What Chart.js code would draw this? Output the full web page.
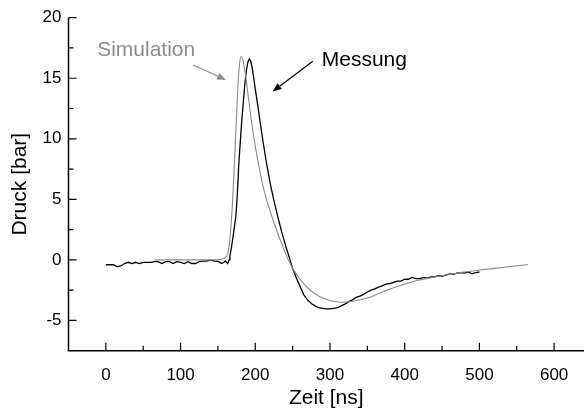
<!DOCTYPE html>
<html>
<head>
<meta charset="utf-8">
<script src="https://cdn.jsdelivr.net/npm/chart.js@4/dist/chart.umd.min.js"></script>
<style>
  html, body { margin: 0; padding: 0; background: #fff; }
  #wrap { width: 584px; height: 409px; }
</style>
</head>
<body>
<div id="wrap"><canvas id="c" width="584" height="409"></canvas></div>
<script>
// Messung: gemessener Druckverlauf
const messTime = [0,5,10,15,20,25,30,35,40,45,50,55,60,65,70,75,80,85,90,95,100,105,110,115,120,125,130,135,140,145,150,155,160,163,
  165,166,168,170,172,174,176,178,180,182,184,186,188,190,192,194,196,198,200,203,206,210,215,220,225,230,235,240,245,250,255,260,265,270,275,280,285,290,295,300,305,310,315,320,325,330,335,340,345,350,355,360,365,370,375,380,385,390,395,400,405,410,415,420,425,430,435,440,445,450,455,460,465,470,475,480,485,490,495,500];
const messPressure = [-0.4,-0.4,-0.4,-0.55,-0.5,-0.3,-0.2,-0.3,-0.2,-0.3,-0.2,-0.2,-0.2,-0.15,-0.15,-0.3,-0.15,-0.15,-0.3,-0.15,-0.2,-0.3,-0.15,-0.3,-0.3,-0.15,-0.1,-0.1,0.0,-0.1,-0.1,-0.3,-0.1,-0.3,
  0.0,0.3,1.0,1.8,2.7,3.6,5.4,8.0,9.8,11.6,13.0,14.5,15.6,16.3,16.6,16.4,15.8,15.0,14.1,12.9,11.6,9.9,8.0,6.3,4.9,3.6,2.4,1.3,0.3,-0.7,-1.5,-2.2,-2.9,-3.3,-3.6,-3.8,-3.95,-4.0,-4.05,-4.05,-4.0,-3.95,-3.8,-3.65,-3.45,-3.3,-3.1,-3.0,-2.85,-2.65,-2.5,-2.4,-2.25,-2.15,-2.0,-1.95,-1.85,-1.75,-1.75,-1.6,-1.6,-1.45,-1.55,-1.55,-1.45,-1.5,-1.4,-1.4,-1.3,-1.35,-1.25,-1.15,-1.2,-1.1,-1.05,-1.1,-1.0,-1.15,-1.05,-1.0];

// Simulation: berechneter Druckverlauf
const simTime = [65,80,100,120,140,155,160,163,165,167,169,171,173,175,177,179,181,183,185,188,191,195,200,205,210,215,220,225,230,235,240,245,250,260,270,280,290,300,315,330,350,372,395,417,440,462,480,498,520,540,565];
const simPressure = [0,0,0,0,0,0.05,0.2,0.5,1.2,2.4,4.2,6.6,9.2,12.0,14.6,16.2,16.8,16.6,16.0,14.8,13.3,11.4,9.4,7.7,6.2,5.0,4.0,3.1,2.2,1.4,0.6,-0.1,-0.7,-1.6,-2.3,-2.8,-3.15,-3.35,-3.5,-3.42,-3.15,-2.6,-2.1,-1.7,-1.42,-1.18,-1.0,-0.86,-0.7,-0.56,-0.38];

// Achsenbeschriftung
const xTickValues = [0,100,200,300,400,500,600];
const yTickValues = [-5,0,5,10,15,20];

const FONT = '"Liberation Sans", Arial, Helvetica, sans-serif';

const toPoints = (xs, ys) => xs.map((x, i) => ({ x: x, y: ys[i] }));

// Achsenlinien, nach innen zeigende Teilstriche, Beschriftungen und Pfeile
const framePlugin = {
  id: 'frame',
  afterDraw(chart) {
    const { ctx, chartArea: a, scales: { x, y } } = chart;
    ctx.save();
    ctx.strokeStyle = '#000';
    ctx.lineWidth = 1.5;
    ctx.beginPath();
    ctx.moveTo(a.left, a.top);
    ctx.lineTo(a.left, a.bottom);
    ctx.lineTo(a.right, a.bottom);
    ctx.stroke();

    ctx.lineWidth = 1.2;
    ctx.beginPath();
    xTickValues.forEach(v => {
      const px = x.getPixelForValue(v);
      ctx.moveTo(px, a.bottom); ctx.lineTo(px, a.bottom - 8);
      const pm = x.getPixelForValue(v + 50);
      if (pm < a.right) { ctx.moveTo(pm, a.bottom); ctx.lineTo(pm, a.bottom - 5); }
    });
    yTickValues.forEach(v => {
      const py = y.getPixelForValue(v);
      ctx.moveTo(a.left, py); ctx.lineTo(a.left + 8, py);
      const pm = y.getPixelForValue(v - 2.5);
      if (pm < a.bottom - 1) { ctx.moveTo(a.left, pm); ctx.lineTo(a.left + 5, pm); }
    });
    ctx.stroke();

    const arrow = (x0, y0, x1, y1, color) => {
      const p0 = [x.getPixelForValue(x0), y.getPixelForValue(y0)];
      const p1 = [x.getPixelForValue(x1), y.getPixelForValue(y1)];
      const ang = Math.atan2(p1[1] - p0[1], p1[0] - p0[0]);
      const L = 9, W = 3.5;
      const bx = p1[0] - L * Math.cos(ang), by = p1[1] - L * Math.sin(ang);
      ctx.strokeStyle = color; ctx.fillStyle = color; ctx.lineWidth = 1.2;
      ctx.beginPath(); ctx.moveTo(p0[0], p0[1]); ctx.lineTo(bx, by); ctx.stroke();
      ctx.beginPath();
      ctx.moveTo(p1[0], p1[1]);
      ctx.lineTo(bx + W * Math.sin(ang), by - W * Math.cos(ang));
      ctx.lineTo(bx - W * Math.sin(ang), by + W * Math.cos(ang));
      ctx.closePath(); ctx.fill();
    };

    ctx.font = '21px ' + FONT;
    ctx.textBaseline = 'middle';
    ctx.textAlign = 'center';
    ctx.fillStyle = '#8c8c8c';
    ctx.fillText('Simulation', x.getPixelForValue(54), y.getPixelForValue(17.3));
    ctx.fillStyle = '#000';
    ctx.fillText('Messung', x.getPixelForValue(346), y.getPixelForValue(16.5));

    arrow(117, 16.1, 161, 14.85, '#8c8c8c');
    arrow(277, 16.4, 223, 13.9, '#000');
    ctx.restore();
  }
};

new Chart(document.getElementById('c'), {
  type: 'line',
  data: {
    datasets: [
      {
        label: 'Simulation',
        data: toPoints(simTime, simPressure),
        borderColor: '#8a8a8a',
        borderWidth: 1.1,
        pointRadius: 0,
        cubicInterpolationMode: 'monotone',
        fill: false
      },
      {
        label: 'Messung',
        data: toPoints(messTime, messPressure),
        borderColor: '#000',
        borderWidth: 1.3,
        pointRadius: 0,
        tension: 0,
        fill: false
      }
    ]
  },
  options: {
    responsive: false,
    devicePixelRatio: 1,
    animation: false,
    layout: { padding: { top: 17.7, right: 0, left: 0, bottom: 0 } },
    plugins: { legend: { display: false }, tooltip: { enabled: false } },
    scales: {
      x: {
        type: 'linear',
        min: -50,
        max: 640,
        afterBuildTicks: s => { s.ticks = xTickValues.map(v => ({ value: v })); },
        afterFit: s => { s.height = 58.3; },
        grid: { display: false, drawTicks: false },
        border: { display: false },
        ticks: { color: '#000', font: { family: FONT, size: 17 }, padding: 14, maxRotation: 0 },
        title: { display: true, text: 'Zeit [ns]', color: '#000', font: { family: FONT, size: 21, lineHeight: 1 }, padding: { top: 0, bottom: 0 } }
      },
      y: {
        type: 'linear',
        min: -7.5,
        max: 20,
        afterBuildTicks: s => { s.ticks = yTickValues.map(v => ({ value: v })); },
        afterFit: s => { s.width = 68.5; },
        grid: { display: false, drawTicks: false },
        border: { display: false },
        ticks: { color: '#000', font: { family: FONT, size: 17 }, padding: 7 },
        title: { display: true, text: 'Druck [bar]', color: '#000', font: { family: FONT, size: 21, lineHeight: 1 }, padding: { top: 10, bottom: 0 } }
      }
    }
  },
  plugins: [framePlugin]
});
</script>
</body>
</html>
